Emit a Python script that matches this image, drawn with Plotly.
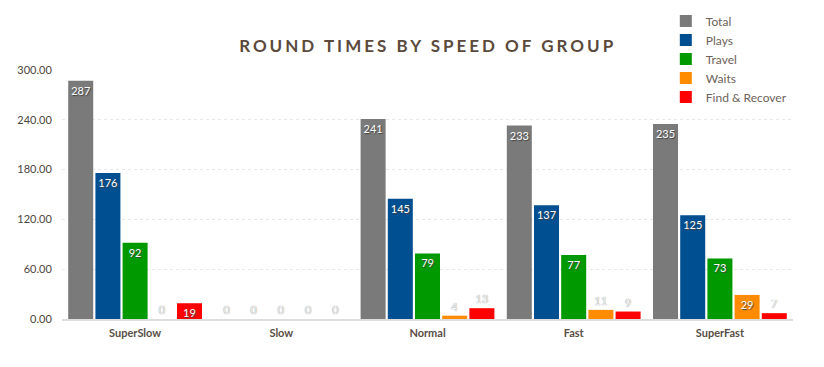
import plotly.graph_objects as go

categories = ["SuperSlow", "Slow", "Normal", "Fast", "SuperFast"]
series_names = ["Total", "Plays", "Travel", "Waits", "Find & Recover"]
total = [287, 0, 241, 233, 235]
plays = [176, 0, 145, 137, 125]
travel = [92, 0, 79, 77, 73]
waits = [0, 0, 4, 11, 29]
find_recover = [19, 0, 13, 9, 7]
tick_vals = [0, 60, 120, 180, 240, 300]
tick_text = ["0.00", "60.00", "120.00", "180.00", "240.00", "300.00"]

colors = ["#7a7a7a", "#004f91", "#009900", "#ff8c00", "#ff0000"]
all_values = [total, plays, travel, waits, find_recover]

fig = go.Figure()
for name, vals, col in zip(series_names, all_values, colors):
    positions = ["inside" if v >= 15 else "outside" for v in vals]
    fig.add_trace(go.Bar(
        x=categories, y=vals, name=name, marker=dict(color=col, line=dict(width=0)),
        text=[str(v) for v in vals], textposition=positions,
        insidetextanchor="end", cliponaxis=False,
        textangle=0, constraintext="none",
        textfont=dict(family="Lato, sans-serif", size=11, color="white",
                      shadow="1px 1px 1px #444"),
        outsidetextfont=dict(family="Lato, sans-serif", size=11, color="#f4f4f4",
                             shadow="0px 0px 1px #666"),
    ))

fig.update_layout(
    width=824, height=367,
    margin=dict(l=62, r=31, t=70, b=48, autoexpand=False),
    paper_bgcolor="white", plot_bgcolor="white",
    barmode="group", bargap=0.07, bargroupgap=0.08,
    title=dict(text="ROUND TIMES BY SPEED OF GROUP", x=0.519, xanchor="center",
               y=0.875, yanchor="middle",
               font=dict(family="Lato, sans-serif", size=17, color="#5b4a3b")),
    legend=dict(x=0.826, xanchor="left", y=1.255, yanchor="top",
                font=dict(family="Lato, sans-serif", size=12, color="#6d625a"),
                itemwidth=30, tracegroupgap=0, bgcolor="rgba(0,0,0,0)"),
    showlegend=True,
    uniformtext=dict(mode=False),
)
fig.update_yaxes(range=[0, 300], tickvals=tick_vals, ticktext=tick_text,
                 showgrid=True, gridcolor="#e8e8e8", griddash="dot", gridwidth=1,
                 zeroline=False, showline=False, automargin=False,
                 ticks="outside", ticklen=7, tickcolor="rgba(0,0,0,0)",
                 tickfont=dict(family="Lato, sans-serif", size=11, color="#4d4640"))
fig.update_xaxes(showline=True, linecolor="#dddddd", linewidth=1.5, automargin=False,
                 ticks="outside", ticklen=3, tickcolor="rgba(0,0,0,0)",
                 tickfont=dict(family="Lato, sans-serif", size=11, color="#5a4e45"))

post = """
document.body.style.margin='0';
document.querySelectorAll('.gtitle').forEach(function(e){e.style.letterSpacing='3px';e.style.fontWeight='bold';});
document.querySelectorAll('.xtick text').forEach(function(e){e.style.fontWeight='bold';});
"""
fig.write_html("out.html", post_script=post, config={"displayModeBar": False})
